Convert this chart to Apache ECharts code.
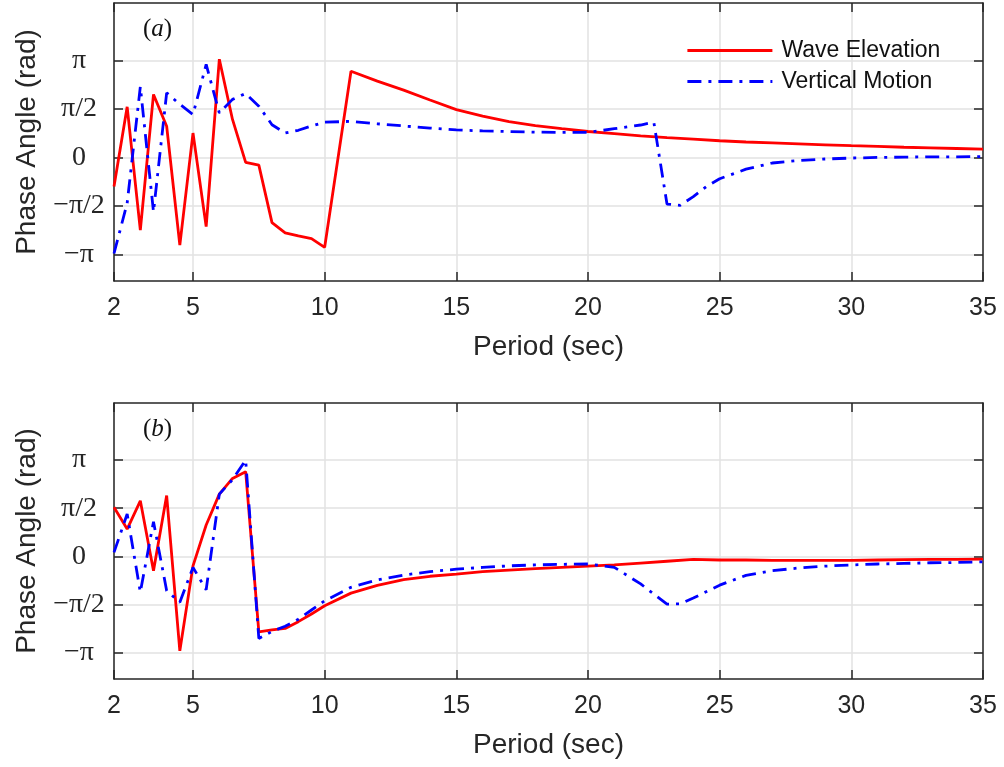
<!DOCTYPE html>
<html>
<head>
<meta charset="utf-8">
<script src="https://cdn.jsdelivr.net/npm/echarts@6/dist/echarts.min.js"></script>
<style>
html,body{margin:0;padding:0;background:#fff;}
#chart{width:1004px;height:767px;}
</style>
</head>
<body>
<div id="chart"></div>
<script>
// ---------- data ----------
const xTicks = [2, 5, 10, 15, 20, 25, 30, 35];
const yTicks = [-Math.PI, -Math.PI / 2, 0, Math.PI / 2, Math.PI];
const yTickLabels = ['\u2212\u03c0', '\u2212\u03c0/2', '0', '\u03c0/2', '\u03c0'];

// panel (a)
const aWavePeriod = [2, 2.5, 3, 3.5, 4, 4.5, 5, 5.5, 6, 6.5, 7, 7.5, 8, 8.5, 9, 9.5, 10, 11, 12, 13, 14, 15, 16, 17, 18, 19, 20, 21, 22, 23, 24, 25, 26, 27, 28, 29, 30, 31, 32, 33, 34, 35];
const aWavePhase = [-0.94, 1.64, -2.35, 2.04, 1.01, -2.84, 0.79, -2.24, 3.18, 1.23, -0.16, -0.25, -2.11, -2.44, -2.54, -2.63, -2.91, 2.79, 2.47, 2.18, 1.86, 1.55, 1.34, 1.16, 1.03, 0.93, 0.84, 0.77, 0.70, 0.64, 0.59, 0.54, 0.50, 0.47, 0.44, 0.41, 0.38, 0.36, 0.33, 0.31, 0.29, 0.27];
const aVertPeriod = [2, 2.5, 3, 3.5, 4, 4.5, 5, 5.5, 6, 6.5, 7, 7.5, 8, 8.5, 9, 9.5, 10, 11, 12, 13, 14, 15, 16, 17, 18, 19, 20, 21, 22, 22.5, 23, 23.5, 24, 24.5, 25, 26, 27, 28, 29, 30, 31, 32, 33, 34, 35];
const aVertPhase = [-3.11, -1.48, 2.29, -1.76, 2.09, 1.72, 1.39, 3.01, 1.44, 1.88, 2.07, 1.66, 1.06, 0.79, 0.88, 1.02, 1.14, 1.17, 1.09, 1.02, 0.95, 0.89, 0.86, 0.84, 0.82, 0.81, 0.81, 0.93, 1.05, 1.14, -1.51, -1.55, -1.27, -0.94, -0.69, -0.38, -0.18, -0.10, -0.05, -0.02, 0.0, 0.01, 0.02, 0.02, 0.03];

// panel (b)
const bWavePeriod = [2, 2.5, 3, 3.5, 4, 4.5, 5, 5.5, 6, 6.5, 7, 7.5, 8, 8.5, 9, 9.5, 10, 11, 12, 13, 14, 15, 16, 17, 18, 19, 20, 21, 22, 23, 24, 25, 26, 27, 28, 29, 30, 31, 32, 33, 34, 35];
const bWavePhase = [1.6, 0.89, 1.81, -0.47, 1.98, -3.08, -0.31, 1.02, 2.03, 2.54, 2.76, -2.46, -2.40, -2.35, -2.13, -1.88, -1.61, -1.2, -0.95, -0.76, -0.65, -0.58, -0.5, -0.45, -0.4, -0.36, -0.32, -0.28, -0.22, -0.16, -0.1, -0.12, -0.12, -0.13, -0.13, -0.13, -0.13, -0.12, -0.11, -0.1, -0.1, -0.09];
const bVertPeriod = [2, 2.5, 3, 3.5, 4, 4.5, 5, 5.5, 6, 6.5, 7, 7.5, 8, 8.5, 9, 9.5, 10, 11, 12, 13, 14, 15, 16, 17, 18, 19, 20, 21, 22, 23, 23.5, 24, 25, 26, 27, 28, 29, 30, 31, 32, 33, 34, 35];
const bVertPhase = [0.13, 1.38, -1.17, 1.13, -1.12, -1.5, -0.36, -1.09, 2.03, 2.5, 3.14, -2.68, -2.45, -2.28, -2.05, -1.75, -1.45, -1.01, -0.77, -0.61, -0.5, -0.42, -0.36, -0.31, -0.28, -0.26, -0.25, -0.36, -0.9, -1.56, -1.55, -1.36, -0.94, -0.62, -0.47, -0.38, -0.32, -0.28, -0.25, -0.23, -0.21, -0.2, -0.18];

const seriesNames = ['Wave Elevation', 'Vertical Motion'];

// ---------- helpers ----------
const zip = (xs, ys) => xs.map((x, i) => [x, ys[i]]);
const AX = '#262626';
const GRIDC = '#e2e2e2';
const SANS = 'Liberation Sans, Arial, Helvetica, sans-serif';
const SERIF = 'Liberation Serif, DejaVu Serif, serif';

function xAxis(gi, pos) {
  const main = pos === 'bottom';
  return {
    type: 'value', gridIndex: gi, position: pos, min: 2, max: 35,
    axisLine: { show: true, onZero: false, lineStyle: { color: AX, width: 1.5 } },
    axisTick: { show: true, inside: true, length: 9, customValues: xTicks, lineStyle: { color: AX, width: 1.5 } },
    axisLabel: { show: main, customValues: xTicks, fontSize: 25, color: AX, margin: 15, fontFamily: SANS },
    splitLine: { show: main, lineStyle: { color: GRIDC, width: 1.5 } },
    name: main ? 'Period (sec)' : '', nameLocation: 'middle', nameGap: 52,
    nameTextStyle: { fontSize: 28, color: AX, fontFamily: SANS }
  };
}
function yAxis(gi, pos) {
  const main = pos === 'left';
  return {
    type: 'value', gridIndex: gi, position: pos, min: -4, max: 5,
    axisLine: { show: true, onZero: false, lineStyle: { color: AX, width: 1.5 } },
    axisTick: { show: true, inside: true, length: 9, customValues: yTicks, lineStyle: { color: AX, width: 1.5 } },
    axisLabel: {
      show: main, customValues: yTicks, fontSize: 28, color: AX, margin: 35, align: 'center',
      fontFamily: SERIF,
      formatter: v => {
        let best = 0, d = Infinity;
        yTicks.forEach((t, i) => { if (Math.abs(t - v) < d) { d = Math.abs(t - v); best = i; } });
        return yTickLabels[best];
      }
    },
    splitLine: { show: main, lineStyle: { color: GRIDC, width: 1.5 } },
    name: main ? 'Phase Angle (rad)' : '', nameLocation: 'middle', nameGap: 73,
    nameTextStyle: { fontSize: 28, color: AX, fontFamily: SANS }
  };
}
function lineSeries(name, data, gi, dashed) {
  return {
    name: name, type: 'line', xAxisIndex: gi * 2, yAxisIndex: gi * 2,
    data: data, symbol: 'none', showSymbol: false, animation: false,
    lineStyle: { color: dashed ? '#0000ff' : '#ff0000', width: 2.8, type: dashed ? [14, 7, 3, 7] : 'solid' },
    itemStyle: { color: dashed ? '#0000ff' : '#ff0000' },
    z: dashed ? 3 : 2
  };
}

const chart = echarts.init(document.getElementById('chart'), null, { renderer: 'canvas' });
chart.setOption({
  backgroundColor: '#ffffff',
  animation: false,
  grid: [
    { left: 114, right: 21, top: 3, height: 278, containLabel: false },
    { left: 114, right: 21, top: 403, height: 276, containLabel: false }
  ],
  xAxis: [xAxis(0, 'bottom'), xAxis(0, 'top'), xAxis(1, 'bottom'), xAxis(1, 'top')],
  yAxis: [yAxis(0, 'left'), yAxis(0, 'right'), yAxis(1, 'left'), yAxis(1, 'right')],
  legend: {
    data: seriesNames, orient: 'vertical', left: 681, top: 33,
    itemWidth: 85, itemHeight: 14, itemGap: 6,
    itemStyle: { opacity: 0 },
    lineStyle: { width: 2.8 },
    textStyle: { fontSize: 23, color: '#111', fontFamily: SANS, lineHeight: 25, padding: [0, 0, 0, 4] },
    backgroundColor: 'rgba(255,255,255,0)', selectedMode: false
  },
  graphic: [
    { type: 'text', left: 143, top: 17, style: { text: '({i|a})', font: '25px ' + SERIF, fill: '#111',
      rich: { i: { fontStyle: 'italic', fontSize: 25, fontFamily: SERIF } } } },
    { type: 'text', left: 143, top: 417, style: { text: '({i|b})', font: '25px ' + SERIF, fill: '#111',
      rich: { i: { fontStyle: 'italic', fontSize: 25, fontFamily: SERIF } } } }
  ],
  series: [
    lineSeries(seriesNames[0], zip(aWavePeriod, aWavePhase), 0, false),
    lineSeries(seriesNames[1], zip(aVertPeriod, aVertPhase), 0, true),
    lineSeries(seriesNames[0], zip(bWavePeriod, bWavePhase), 1, false),
    lineSeries(seriesNames[1], zip(bVertPeriod, bVertPhase), 1, true)
  ]
});
</script>
</body>
</html>
